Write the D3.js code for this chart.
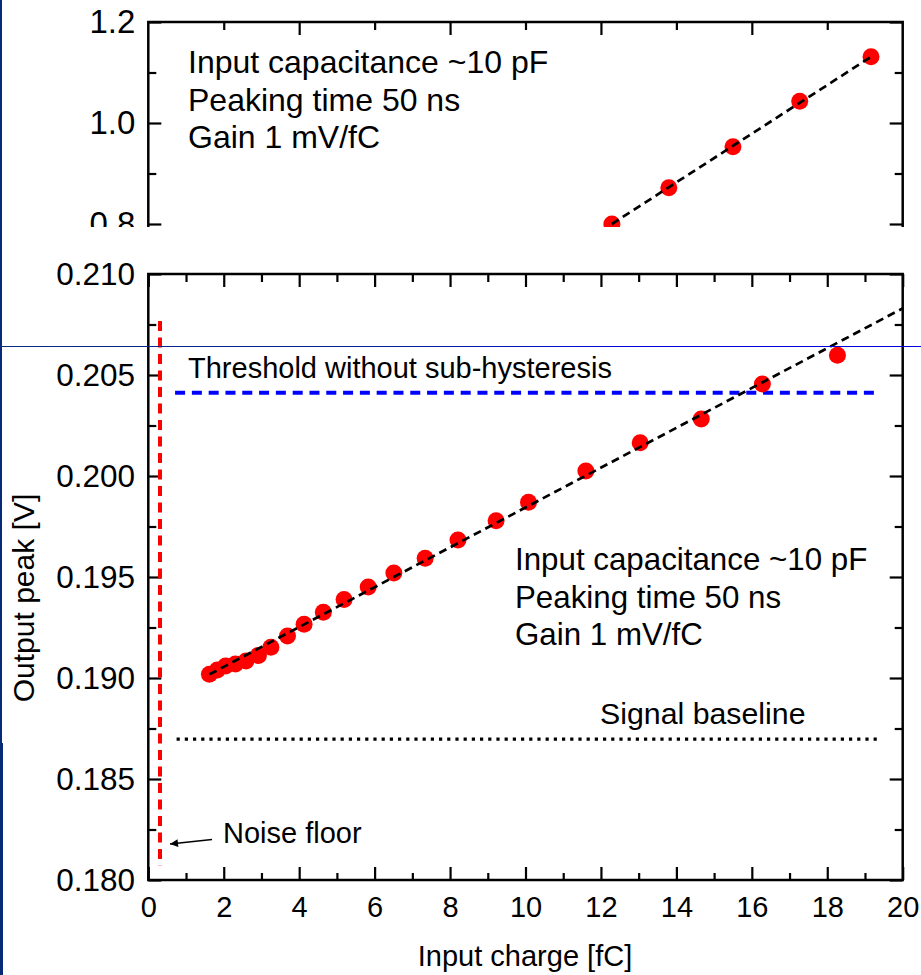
<!DOCTYPE html>
<html>
<head>
<meta charset="utf-8">
<script src="https://cdn.jsdelivr.net/npm/d3@7/dist/d3.min.js"></script>
<style>
  html, body { margin: 0; padding: 0; background: #fff; }
  svg { display: block; }
  text { font-family: "Liberation Sans", Arial, sans-serif; fill: #000; }
</style>
</head>
<body>
<svg id="chart" width="921" height="975"></svg>
<script>
// Low-charge scan: input charge [fC] vs. output peak [V]
const charge = [1.62, 1.83, 2.05, 2.31, 2.59, 2.92, 3.25, 3.69, 4.13, 4.64, 5.19,
                5.83, 6.51, 7.34, 8.21, 9.22, 10.08, 11.60, 13.04, 14.66, 16.28, 18.27];
const peak = [0.19018, 0.19040, 0.19059, 0.19069, 0.19084, 0.19112, 0.19152, 0.19208,
              0.19266, 0.19325, 0.19389, 0.19451, 0.19520, 0.19593, 0.19683, 0.19779,
              0.19870, 0.20025, 0.20165, 0.20282, 0.20455, 0.20598];

// Linear fit of the low-charge scan (~1 mV/fC)
const fitIntercept = 0.18858;
const fitSlope = 0.000986;
const fitRange = [1.62, 20];

// Reference levels
const thresholdLevel = 0.20412;      // threshold without sub-hysteresis
const thresholdRange = [0.71, 19.26];
const baselineLevel = 0.18697;       // signal baseline
const baselineRange = [0.75, 19.35];
const noiseFloorCharge = 0.31;       // noise floor
const noiseFloorRange = [0.18070, 0.20767];

// High-charge scan (upper panel)
const chargeHigh = [12.29, 13.80, 15.50, 17.27, 19.16];
const peakHigh = [0.800, 0.872, 0.953, 1.043, 1.131];

// Tick values
const xMajor = d3.range(0, 21, 2);
const xMinor = d3.range(1, 20, 2);
const yMajor = [0.180, 0.185, 0.190, 0.195, 0.200, 0.205, 0.210];
const yMinor = [0.1825, 0.1875, 0.1925, 0.1975, 0.2025, 0.2075];
const xMajorHigh = [4, 8, 12, 16];
const xMinorHigh = [2, 6, 10, 14, 18];
const yMajorHigh = [0.8, 1.0, 1.2];
const yMinorHigh = [0.9, 1.1];

const annotationLines = ["Input capacitance ~10 pF", "Peaking time 50 ns", "Gain 1 mV/fC"];

const svg = d3.select("#chart");
const FONT = 29;

// ---------- Lower panel ----------
const L = 148.3, R = 902.7, T = 274, B = 880;
const x = d3.scaleLinear().domain([0, 20]).range([L, R]);
const y = d3.scaleLinear().domain([0.180, 0.210]).range([B, T]);

const g = svg.append("g");

function styleAxis(size) {
  return sel => {
    sel.select(".domain").remove();
    sel.selectAll(".tick line").attr("stroke", "#000").attr("stroke-width", 2.2);
    sel.selectAll(".tick text").attr("font-size", size)
      .attr("font-family", "Liberation Sans, Arial, sans-serif").attr("fill", "#000");
  };
}

// bottom axis with labels
g.append("g").attr("transform", `translate(0,${B})`)
  .call(d3.axisBottom(x).tickValues(xMajor).tickSize(-13).tickSizeOuter(0).tickPadding(16.5).tickFormat(d3.format("d")))
  .call(styleAxis(29));
g.append("g").attr("transform", `translate(0,${B})`)
  .call(d3.axisBottom(x).tickValues(xMinor).tickSize(-7).tickSizeOuter(0).tickFormat(""))
  .call(styleAxis(29));
// top mirror
g.append("g").attr("transform", `translate(0,${T})`)
  .call(d3.axisTop(x).tickValues(xMajor).tickSize(-13).tickSizeOuter(0).tickFormat(""))
  .call(styleAxis(29));
g.append("g").attr("transform", `translate(0,${T})`)
  .call(d3.axisTop(x).tickValues(xMinor).tickSize(-8).tickSizeOuter(0).tickFormat(""))
  .call(styleAxis(29));
// left axis with labels
g.append("g").attr("transform", `translate(${L},0)`)
  .call(d3.axisLeft(y).tickValues(yMajor).tickSize(-13).tickSizeOuter(0).tickPadding(13.3).tickFormat(d3.format(".3f")))
  .call(styleAxis(31.5));
g.append("g").attr("transform", `translate(${L},0)`)
  .call(d3.axisLeft(y).tickValues(yMinor).tickSize(-8).tickSizeOuter(0).tickFormat(""))
  .call(styleAxis(31.5));
// right mirror
g.append("g").attr("transform", `translate(${R},0)`)
  .call(d3.axisRight(y).tickValues(yMajor).tickSize(-13).tickSizeOuter(0).tickFormat(""))
  .call(styleAxis(29));
g.append("g").attr("transform", `translate(${R},0)`)
  .call(d3.axisRight(y).tickValues(yMinor).tickSize(-8).tickSizeOuter(0).tickFormat(""))
  .call(styleAxis(29));

// frame
g.append("rect").attr("x", L).attr("y", T).attr("width", R - L).attr("height", B - T)
  .attr("fill", "none").attr("stroke", "#000").attr("stroke-width", 2.5);

// noise floor (vertical red dashed)
g.append("line")
  .attr("x1", x(noiseFloorCharge)).attr("x2", x(noiseFloorCharge))
  .attr("y1", y(noiseFloorRange[1])).attr("y2", y(noiseFloorRange[0]))
  .attr("stroke", "#ff0000").attr("stroke-width", 4).attr("stroke-dasharray", "10,6.5");

// threshold (blue dashed)
g.append("line")
  .attr("x1", x(thresholdRange[0])).attr("x2", x(thresholdRange[1]))
  .attr("y1", y(thresholdLevel)).attr("y2", y(thresholdLevel))
  .attr("stroke", "#0000ff").attr("stroke-width", 4).attr("stroke-dasharray", "10,6.8");

// signal baseline (black dotted)
g.append("line")
  .attr("x1", x(baselineRange[0])).attr("x2", x(baselineRange[1]))
  .attr("y1", y(baselineLevel)).attr("y2", y(baselineLevel))
  .attr("stroke", "#000").attr("stroke-width", 3.2).attr("stroke-dasharray", "3.2,5");

// data points
g.selectAll("circle.pt").data(charge.map((c, i) => [c, peak[i]])).join("circle")
  .attr("class", "pt")
  .attr("cx", d => x(d[0])).attr("cy", d => y(d[1])).attr("r", 8.5)
  .attr("fill", "#ff0000");

// fit line
g.append("line")
  .attr("x1", x(fitRange[0])).attr("y1", y(fitIntercept + fitSlope * fitRange[0]))
  .attr("x2", x(fitRange[1])).attr("y2", y(fitIntercept + fitSlope * fitRange[1]))
  .attr("stroke", "#000").attr("stroke-width", 2.7).attr("stroke-dasharray", "8,5");

// labels
g.append("text").attr("x", 188).attr("y", 378).attr("font-size", FONT)
  .text("Threshold without sub-hysteresis");
g.append("text").attr("x", 600).attr("y", 724).attr("font-size", 30.3)
  .text("Signal baseline");
g.append("text").attr("x", 223).attr("y", 843).attr("font-size", FONT)
  .text("Noise floor");
annotationLines.forEach((t, i) => {
  g.append("text").attr("x", 515).attr("y", 570 + i * 37.5).attr("font-size", 31.3).text(t);
});

// arrow pointing at the noise floor
const defs = svg.append("defs");
defs.append("marker").attr("id", "arrowhead")
  .attr("viewBox", "0 0 10 10").attr("refX", 10).attr("refY", 5)
  .attr("markerWidth", 14).attr("markerHeight", 8).attr("markerUnits", "userSpaceOnUse")
  .attr("orient", "auto")
  .append("path").attr("d", "M0,0 L10,5 L0,10 Z").attr("fill", "#000");
g.append("line").attr("x1", 212).attr("y1", 839.5).attr("x2", 170).attr("y2", 844)
  .attr("stroke", "#000").attr("stroke-width", 1.6).attr("marker-end", "url(#arrowhead)");

// axis titles
g.append("text").attr("x", 525).attr("y", 966).attr("text-anchor", "middle").attr("font-size", FONT)
  .text("Input charge [fC]");
g.append("text").attr("transform", "translate(34,598) rotate(-90)").attr("text-anchor", "middle")
  .attr("font-size", 30).text("Output peak [V]");

// ---------- Upper panel (partially shown) ----------
const T2 = 22;
const y2 = d3.scaleLinear().domain([0.8, 1.2]).range([224, T2]);
defs.append("clipPath").attr("id", "upperClip")
  .append("rect").attr("x", 0).attr("y", 0).attr("width", 921).attr("height", 227);
const g2 = svg.append("g").attr("clip-path", "url(#upperClip)");
const B2 = y2(0.6);

g2.append("g").attr("transform", `translate(0,${T2})`)
  .call(d3.axisTop(x).tickValues(xMajorHigh).tickSize(-13).tickSizeOuter(0).tickFormat(""))
  .call(styleAxis(31));
g2.append("g").attr("transform", `translate(0,${T2})`)
  .call(d3.axisTop(x).tickValues(xMinorHigh).tickSize(-8).tickSizeOuter(0).tickFormat(""))
  .call(styleAxis(31));
g2.append("g").attr("transform", `translate(${L},0)`)
  .call(d3.axisLeft(y2).tickValues(yMajorHigh).tickSize(-13).tickSizeOuter(0).tickPadding(13).tickFormat(d3.format(".1f")))
  .call(styleAxis(33));
g2.append("g").attr("transform", `translate(${L},0)`)
  .call(d3.axisLeft(y2).tickValues(yMinorHigh).tickSize(-8).tickSizeOuter(0).tickFormat(""))
  .call(styleAxis(31));
g2.append("g").attr("transform", `translate(${R},0)`)
  .call(d3.axisRight(y2).tickValues(yMajorHigh).tickSize(-13).tickSizeOuter(0).tickFormat(""))
  .call(styleAxis(31));
g2.append("g").attr("transform", `translate(${R},0)`)
  .call(d3.axisRight(y2).tickValues(yMinorHigh).tickSize(-8).tickSizeOuter(0).tickFormat(""))
  .call(styleAxis(31));
g2.append("rect").attr("x", L).attr("y", T2).attr("width", R - L).attr("height", B2 - T2)
  .attr("fill", "none").attr("stroke", "#000").attr("stroke-width", 2.5);

g2.selectAll("circle.pt").data(chargeHigh.map((c, i) => [c, peakHigh[i]])).join("circle")
  .attr("class", "pt")
  .attr("cx", d => x(d[0])).attr("cy", d => y2(d[1])).attr("r", 8.5)
  .attr("fill", "#ff0000");
g2.append("line")
  .attr("x1", x(chargeHigh[0])).attr("y1", y2(peakHigh[0]))
  .attr("x2", x(chargeHigh[chargeHigh.length - 1])).attr("y2", y2(peakHigh[peakHigh.length - 1]))
  .attr("stroke", "#000").attr("stroke-width", 2.7).attr("stroke-dasharray", "8,5");
annotationLines.forEach((t, i) => {
  g2.append("text").attr("x", 188).attr("y", 73 + i * 37.5).attr("font-size", 32).text(t);
});

// ---------- Page frame ----------
const grad = defs.append("linearGradient").attr("id", "ruleGrad")
  .attr("x1", "0%").attr("x2", "100%").attr("y1", "0%").attr("y2", "0%");
grad.append("stop").attr("offset", "0%").attr("stop-color", "#0b2a80");
grad.append("stop").attr("offset", "45%").attr("stop-color", "#0a1fa0");
grad.append("stop").attr("offset", "70%").attr("stop-color", "#0000dd");
svg.append("rect").attr("x", 0).attr("y", 346).attr("width", 921).attr("height", 1)
  .attr("fill", "url(#ruleGrad)").attr("shape-rendering", "crispEdges");
svg.append("rect").attr("x", 0).attr("y", 0).attr("width", 2).attr("height", 743).attr("fill", "#062a78");
svg.append("rect").attr("x", 0).attr("y", 743).attr("width", 3).attr("height", 232).attr("fill", "#062a78");
</script>
</body>
</html>
